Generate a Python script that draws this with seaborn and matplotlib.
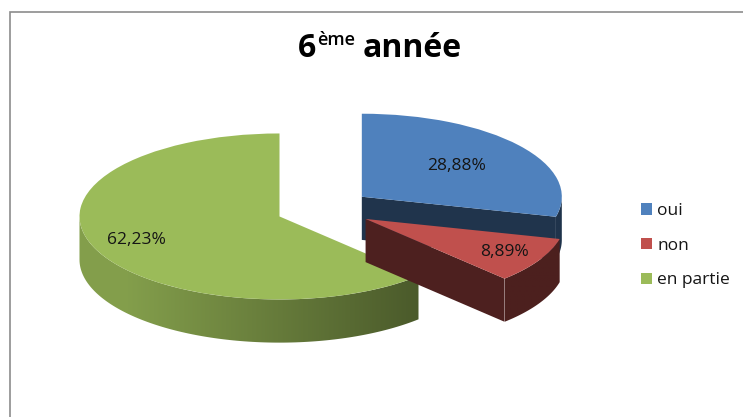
import numpy as np
import matplotlib
matplotlib.use('Agg')
import matplotlib.pyplot as plt
import seaborn as sns
from matplotlib.patches import Polygon, Rectangle
from matplotlib.colors import to_rgb

categories = ['oui', 'non', 'en partie']
values = [28.88, 8.89, 62.23]
colors = ['#4f81bd', '#c0504d', '#9bbb59']
explode = [0.24, 0.24, 0.24]
label_radius = [0.6, 0.8, 0.77]
title_num = '6'
title_sup = 'ème'
title_main = 'année'

sns.set_theme(style='white')
plt.rcParams['font.family'] = ['Open Sans', 'DejaVu Sans']

W, H = 743, 417
fig = plt.figure(figsize=(W / 100, H / 100), dpi=100)
ax = fig.add_axes([0, 0, 1, 1])

RX, RY = 200, 83      # px per data unit (ellipse squash)
CX, CY = 324, 209     # pie centre in px from top-left
DEPTH = 0.52

wedges, texts, autotexts = ax.pie(
    values, colors=colors, explode=explode, startangle=90, counterclock=False,
    autopct=lambda p: f'{p:.2f}%'.replace('.', ','), pctdistance=0.7,
    wedgeprops=dict(linewidth=0),
    textprops=dict(fontsize=12.5, color='#151515'))

order = [0, 2, 1]
z = 1
for i in order:
    w = wedges[i]
    cx, cy = w.center
    r = w.r
    t1, t2 = w.theta1, w.theta2
    base = np.array(to_rgb(colors[i]))
    for te, vis in ((t1, np.cos(np.radians(t1)) > 1e-6),
                    (t2, np.cos(np.radians(t2)) < -1e-6)):
        if vis:
            ex = cx + r * np.cos(np.radians(te))
            ey = cy + r * np.sin(np.radians(te))
            ax.add_patch(Polygon([(cx, cy), (ex, ey), (ex, ey - DEPTH), (cx, cy - DEPTH)],
                                 closed=True, facecolor=base * 0.4, edgecolor='none', zorder=z))
    for k in range(-2, 2):
        lo, hi = max(t1, 180 + 360 * k), min(t2, 360 + 360 * k)
        if hi > lo:
            th = np.radians(np.linspace(lo, hi, 120))
            top = np.column_stack([cx + r * np.cos(th), cy + r * np.sin(th)])
            bot = top[::-1] - np.array([0, DEPTH])
            verts = np.vstack([top, bot])
            patch = Polygon(verts, closed=True, facecolor='none', edgecolor='none', zorder=z + 1)
            ax.add_patch(patch)
            xs = np.linspace(verts[:, 0].min(), verts[:, 0].max(), 256)
            fs = np.clip(0.8 - 0.25 * (xs + 0.8), 0.4, 0.85)
            grad = (base[None, :] * fs[:, None])[None, :, :]
            im = ax.imshow(grad, extent=[xs.min(), xs.max(), verts[:, 1].min(), verts[:, 1].max()],
                           aspect='auto', interpolation='bilinear', origin='lower', zorder=z + 1)
            im.set_clip_path(patch)
    w.set_zorder(z + 2)
    z += 3

for w, t, lr in zip(wedges, autotexts, label_radius):
    mid = np.radians((w.theta1 + w.theta2) / 2)
    t.set_position((w.center[0] + lr * w.r * np.cos(mid), w.center[1] + lr * w.r * np.sin(mid)))
    t.set_zorder(50)

ax.set_aspect('auto')
ax.set_xlim(-CX / RX, (W - CX) / RX)
ax.set_ylim(-(H - CY) / RY, CY / RY)
ax.axis('off')

leg = ax.legend(wedges, categories, loc='upper left',
                bbox_to_anchor=(641 / W, 1 - 203 / H), bbox_transform=fig.transFigure,
                frameon=False, fontsize=12.5, handlelength=0.65, handleheight=0.65,
                handletextpad=0.3, labelspacing=1.08, borderpad=0, borderaxespad=0)
for t in leg.get_texts():
    t.set_color('#151515')

# title with superscript
base_y = 1 - 57 / H
t6 = fig.text(298 / W, base_y, title_num, fontsize=23, fontweight='bold', ha='left', va='baseline',
              color='black')
rend = fig.canvas.get_renderer()
bb6 = t6.get_window_extent(rend)
tsup = fig.text((bb6.x1 + 1) / W, base_y + 12 / H, title_sup, fontsize=13, fontweight='semibold',
                ha='left', va='baseline', color='black')
bbs = tsup.get_window_extent(rend)
fig.text((bbs.x1 + 7) / W, base_y, title_main, fontsize=23, fontweight='bold', ha='left',
         va='baseline', color='black')

fig.add_artist(Rectangle((10 / W, -0.1), 1.2, 1 - 12 / H + 0.1, transform=fig.transFigure,
                         fill=False, edgecolor='#8c8c8c', linewidth=1.2))

fig.savefig('out.png', dpi=100)
